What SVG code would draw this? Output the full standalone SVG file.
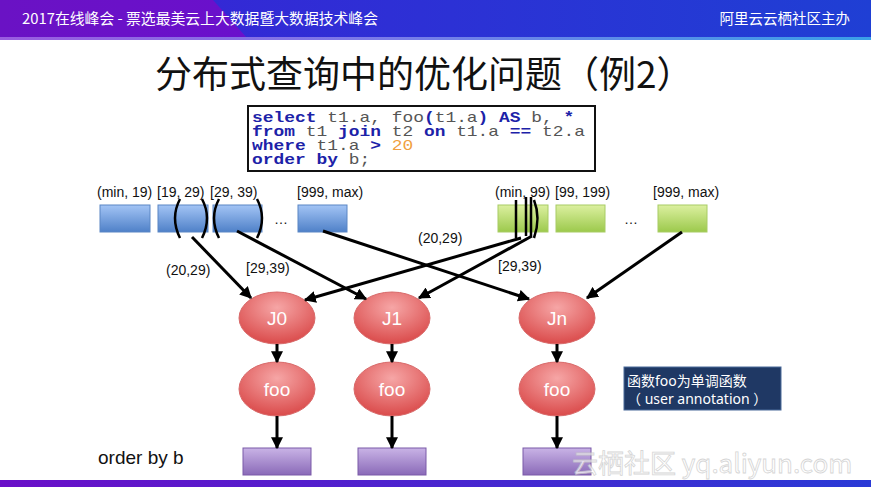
<svg xmlns="http://www.w3.org/2000/svg" width="871" height="487" viewBox="0 0 871 487">
<defs>
<linearGradient id="hdrL" x1="0" y1="0" x2="1" y2="0"><stop offset="0" stop-color="#6a12c4"/><stop offset="1" stop-color="#6a10cc"/></linearGradient>
<linearGradient id="hdrR" x1="0" y1="0" x2="1" y2="0"><stop offset="0" stop-color="#3a22d6"/><stop offset="1" stop-color="#1f3fd4"/></linearGradient>
<linearGradient id="strip" x1="0" y1="0" x2="1" y2="0"><stop offset="0" stop-color="#9a5ce0"/><stop offset="0.45" stop-color="#7a7ce8"/><stop offset="1" stop-color="#3aa0e8"/></linearGradient>
<linearGradient id="foot" x1="0" y1="0" x2="1" y2="0"><stop offset="0" stop-color="#6a0fc8"/><stop offset="1" stop-color="#2a3ad6"/></linearGradient>
<linearGradient id="gBlue" x1="0" y1="0" x2="0" y2="1"><stop offset="0" stop-color="#a3c4f5"/><stop offset="1" stop-color="#4f81c8"/></linearGradient>
<linearGradient id="gGreen" x1="0" y1="0" x2="0" y2="1"><stop offset="0" stop-color="#dcf0a0"/><stop offset="1" stop-color="#9cc94c"/></linearGradient>
<linearGradient id="gPurple" x1="0" y1="0" x2="0" y2="1"><stop offset="0" stop-color="#c9b3e6"/><stop offset="1" stop-color="#8a6ab8"/></linearGradient>
<radialGradient id="gRed" cx="0.5" cy="0.3" r="0.75"><stop offset="0" stop-color="#f6a6a6"/><stop offset="1" stop-color="#d84444"/></radialGradient>
<marker id="ah" viewBox="0 0 10 10" refX="9" refY="5" markerWidth="4" markerHeight="4" orient="auto" markerUnits="strokeWidth"><path d="M0,0 L10,5 L0,10 z" fill="#000"/></marker>
<style>
.lbl{font-family:"Liberation Sans","Noto Sans",sans-serif;font-size:14px;fill:#111}
.bx{fill:url(#gBlue);stroke:#5a86c4;stroke-width:1}
.gx{fill:url(#gGreen);stroke:#a8cc64;stroke-width:1}
.px{fill:url(#gPurple);stroke:#7a5aa8;stroke-width:1}
.el{fill:url(#gRed);stroke:#d86a6a;stroke-width:1}
.nt{font-family:"Liberation Sans","Open Sans",sans-serif;font-size:19px;fill:#fff;text-anchor:middle}
.ar{stroke:#000;stroke-width:3;fill:none;marker-end:url(#ah)}
.br{stroke:#000;stroke-width:2.5;fill:none}
.code{font-family:"Liberation Mono","Courier New",monospace;font-size:14px;fill:#555}
.kw{fill:#1c22a8;font-weight:bold}
.nte{font-family:"Noto Sans","Noto Sans CJK SC",sans-serif;font-size:14px;fill:#fff}
</style>
</defs>

<!-- header -->
<rect x="0" y="0" width="871" height="38" fill="url(#hdrR)"/>
<polygon points="0,0 213,0 247,38 0,38" fill="url(#hdrL)"/>
<rect x="0" y="37" width="871" height="3" fill="url(#strip)"/>
<text x="22" y="24" font-family="'Noto Sans CJK SC',sans-serif" font-size="14.5" fill="#fff" textLength="356" lengthAdjust="spacingAndGlyphs">2017在线峰会 - 票选最美云上大数据暨大数据技术峰会</text>
<text x="850" y="24" text-anchor="end" font-family="'Noto Sans CJK SC',sans-serif" font-size="14.5" fill="#fff">阿里云云栖社区主办</text>
<rect x="0" y="480" width="871" height="7" fill="url(#foot)"/>

<!-- title -->
<text x="155" y="88" font-family="'Noto Sans CJK SC',sans-serif" font-size="37" fill="#111">分布式查询中的优化问题（例2）</text>

<!-- code box -->
<g id="code">
<rect x="248" y="106" width="347" height="65" fill="#fff" stroke="#111" stroke-width="2"/>
<g transform="translate(252,0) scale(1.28,1)">
<text class="code" x="0" y="122"><tspan class="kw">select</tspan> t1.a, foo<tspan class="kw">(</tspan>t1.a<tspan class="kw">)</tspan> <tspan class="kw">AS</tspan> b, <tspan class="kw">*</tspan></text>
<text class="code" x="0" y="136"><tspan class="kw">from</tspan> t1 <tspan class="kw">join</tspan> t2 <tspan class="kw">on</tspan> t1.a <tspan class="kw">==</tspan> t2.a</text>
<text class="code" x="0" y="150"><tspan class="kw">where</tspan> t1.a <tspan class="kw">&gt;</tspan> <tspan fill="#f0a040">20</tspan></text>
<text class="code" x="0" y="164"><tspan class="kw">order by</tspan> b;</text>
</g>
</g>

<!-- t1 partitions -->
<g id="t1p0"><rect class="bx" x="100" y="205" width="50" height="27"/><text class="lbl" x="97" y="197">(min, 19)</text></g>
<g id="t1p1"><rect class="bx" x="158" y="205" width="50" height="27"/><text class="lbl" x="157" y="197">[19, 29)</text></g>
<g id="t1p2"><rect class="bx" x="213" y="205" width="49" height="27"/><text class="lbl" x="210" y="197">[29, 39)</text></g>
<text class="lbl" x="274" y="224" font-size="17">…</text>
<g id="t1pn"><rect class="bx" x="298" y="205" width="49" height="27"/><text class="lbl" x="297" y="197">[999, max)</text></g>

<!-- t2 partitions -->
<g id="t2p0"><rect class="gx" x="498" y="205" width="50" height="27"/><text class="lbl" x="495" y="197">(min, 99)</text></g>
<g id="t2p1"><rect class="gx" x="556" y="205" width="49" height="27"/><text class="lbl" x="555" y="197">[99, 199)</text></g>
<text class="lbl" x="624" y="224" font-size="17">…</text>
<g id="t2pn"><rect class="gx" x="658" y="205" width="49" height="27"/><text class="lbl" x="653" y="197">[999, max)</text></g>

<!-- brackets -->
<g id="brackets">
<path class="br" d="M180,199 Q170,218 180,238"/>
<path class="br" d="M202,199 Q212,218 202,238"/>
<path class="br" d="M219,199 Q209,218 219,238"/>
<path class="br" d="M257,199 Q267,218 257,238"/>
<line class="br" x1="516" y1="200" x2="516" y2="238"/>
<line class="br" x1="526" y1="197" x2="526" y2="236"/>
<line class="br" x1="531" y1="197" x2="531" y2="236"/>
<path class="br" d="M534,200 Q541,218 534,238"/>
</g>

<!-- join nodes -->
<g id="J0"><ellipse class="el" cx="277" cy="318" rx="38" ry="26"/><text class="nt" x="277" y="325">J0</text></g>
<g id="J1"><ellipse class="el" cx="392" cy="318" rx="38" ry="26"/><text class="nt" x="392" y="325">J1</text></g>
<g id="Jn"><ellipse class="el" cx="557" cy="318" rx="38" ry="26"/><text class="nt" x="557" y="325">Jn</text></g>
<g id="foo0"><ellipse class="el" cx="277" cy="389" rx="38" ry="27"/><text class="nt" x="277" y="396">foo</text></g>
<g id="foo1"><ellipse class="el" cx="392" cy="389" rx="38" ry="27"/><text class="nt" x="392" y="396">foo</text></g>
<g id="foon"><ellipse class="el" cx="557" cy="389" rx="38" ry="27"/><text class="nt" x="557" y="396">foo</text></g>
<g id="out0"><rect class="px" x="243" y="448" width="68" height="27"/></g>
<g id="out1"><rect class="px" x="358" y="448" width="68" height="27"/></g>
<g id="outn"><rect class="px" x="523" y="448" width="68" height="27"/></g>

<!-- connectors -->
<g id="connectors">
<line class="ar" x1="192" y1="237" x2="251" y2="298"/>
<line class="ar" x1="237" y1="231" x2="366" y2="299"/>
<line class="ar" x1="323" y1="231" x2="529" y2="299"/>
<line class="ar" x1="521" y1="238" x2="305" y2="300"/>
<line class="ar" x1="532" y1="236" x2="419" y2="298"/>
<line class="ar" x1="682" y1="232" x2="587" y2="298"/>
<line class="ar" x1="277" y1="344" x2="277" y2="362"/>
<line class="ar" x1="392" y1="344" x2="392" y2="362"/>
<line class="ar" x1="557" y1="344" x2="557" y2="362"/>
<line class="ar" x1="277" y1="416" x2="277" y2="448"/>
<line class="ar" x1="392" y1="416" x2="392" y2="448"/>
<line class="ar" x1="557" y1="416" x2="557" y2="448"/>
</g>

<!-- edge labels -->
<text class="lbl" x="166" y="275">(20,29)</text>
<text class="lbl" x="246" y="273">[29,39)</text>
<text class="lbl" x="418" y="243">(20,29)</text>
<text class="lbl" x="498" y="271">[29,39)</text>

<text x="98" y="464" font-family="'Liberation Sans','Noto Sans',sans-serif" font-size="19" fill="#111">order by b</text>

<g id="note">
<rect x="624" y="367" width="157" height="43" fill="#1f3864" stroke="#4a6a9a" stroke-width="1"/>
<text class="nte" x="627" y="386">函数foo为单调函数</text>
<text class="nte" x="627" y="404">（ user annotation ）</text>
</g>

<text x="572" y="473" font-family="'Noto Sans CJK SC',sans-serif" font-size="26" fill="#fff" stroke="#c8c8c8" stroke-width="0.8" opacity="0.75">云栖社区 yq.aliyun.com</text>
</svg>
